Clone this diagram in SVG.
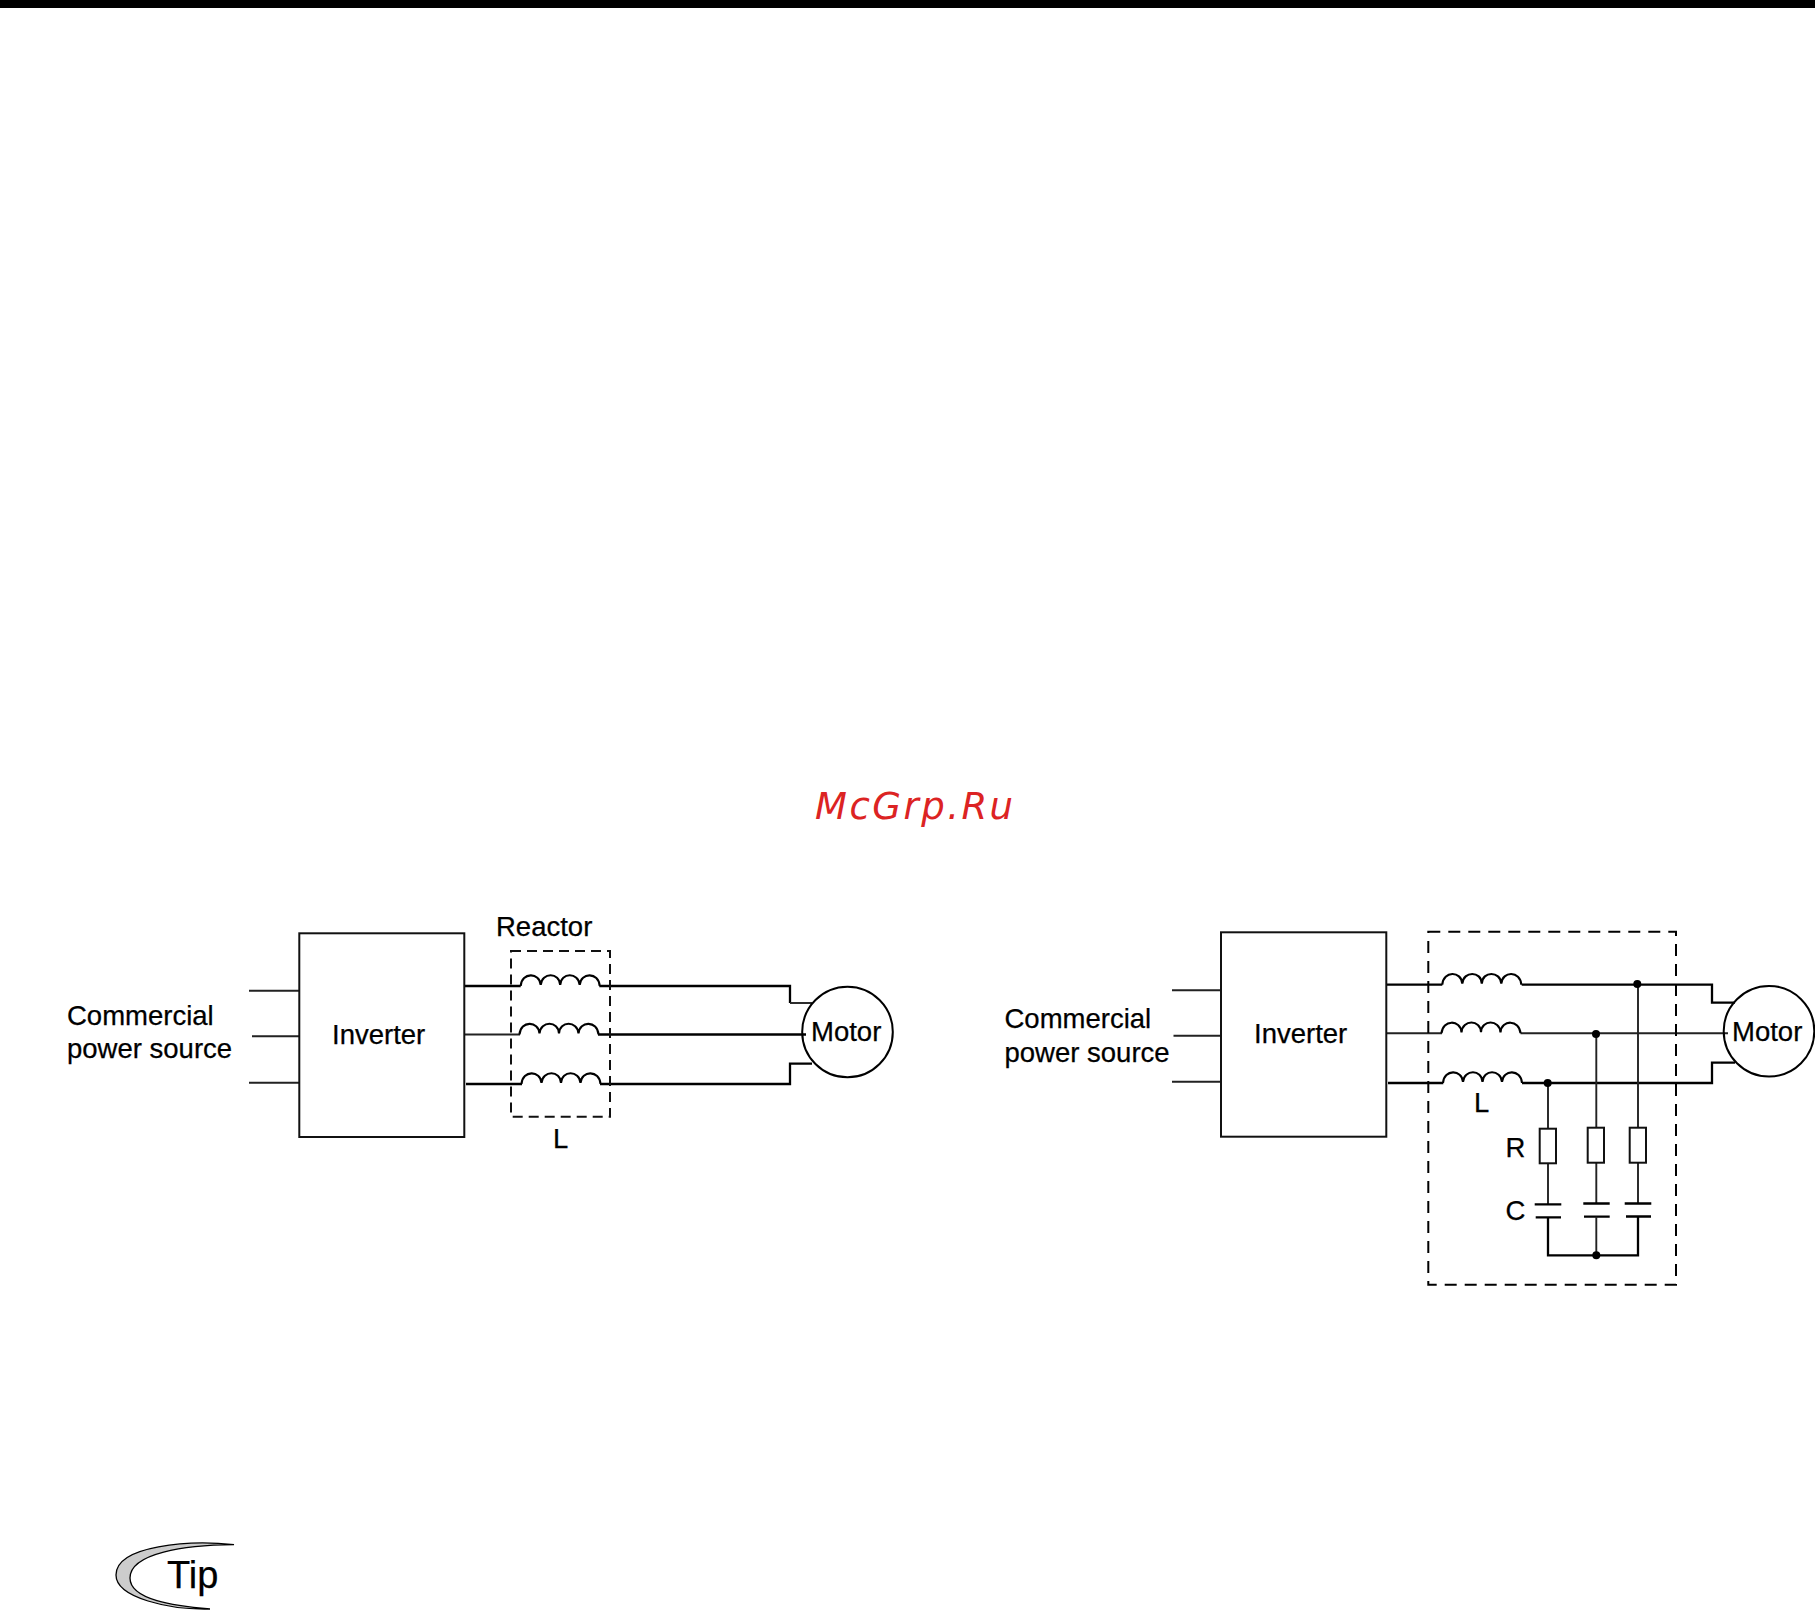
<svg xmlns="http://www.w3.org/2000/svg" width="1815" height="1610" viewBox="0 0 1815 1610">
<defs>
<style>
text{font-family:"Liberation Sans",Arial,sans-serif;font-size:27.5px;fill:#000;stroke:#000;stroke-width:.25}
.b{fill:#fff;stroke:#111;stroke-width:2}
.w{fill:none;stroke:#000;stroke-width:2.300}
.t{fill:none;stroke:#222;stroke-width:1.900}
.d1{fill:none;stroke:#111;stroke-width:2;stroke-dasharray:10 6}
.d2{fill:none;stroke:#000;stroke-width:2;stroke-dasharray:12 8}
.dot{fill:#000}
</style>
<path id="coil" d="M0 0C1 -14 19 -14 20 -1C21 -14 39 -14 39.500 -1C40 -14 58 -14 59 -1C60 -14 78 -14 79 0" fill="none" stroke="#000" stroke-width="2.100"/>
</defs>
<rect id="top-bar" x="0" y="0" width="1815" height="8" fill="#000"/>
<text id="watermark" x="815" y="819" style="font-family:'DejaVu Sans',sans-serif;font-style:oblique;font-size:37px;letter-spacing:2.500px;fill:#dc2323;stroke:none">McGrp.Ru</text>

<g id="connectors">
<path class="t" d="M249 990.700H300M252 1036.300H302M249 1082.700H300"/>
<path class="w" d="M465 986H520.700M599.300 986H790V1003"/>
<path class="t" d="M790 1003H812"/>
<path class="t" d="M465 1034.500H520"/>
<path class="w" d="M598 1034.500H806"/>
<path class="w" d="M466 1084H522M600 1084H790V1063.700H812"/>
<use href="#coil" x="520.700" y="986"/>
<use href="#coil" x="519.500" y="1034.500"/>
<use href="#coil" x="521.500" y="1084"/>

<path class="t" d="M1172 990.300H1223M1173.500 1035.700H1224M1172 1081.700H1223"/>
<path class="w" d="M1387 984.700H1442.300M1521.700 984.700H1712V1002.700H1735"/>
<path class="t" d="M1387 1033.300H1442M1520.500 1033.300H1728"/>
<path class="w" d="M1388 1083H1443.300M1522 1083H1712V1062.700H1735"/>
<use href="#coil" x="1442.300" y="984.700"/>
<use href="#coil" x="1441.500" y="1033.300"/>
<use href="#coil" x="1443" y="1083"/>
<path class="t" d="M1548 1083V1129M1596.300 1034V1128M1638 984V1128"/>
<path class="t" d="M1548 1163V1204M1596.300 1163V1203.500M1638 1163V1203.500"/>
<path class="w" d="M1534.700 1204.300H1561.300M1535.700 1217.300H1561M1583.300 1203.500H1609.700M1584 1216.700H1609.700M1624.700 1203.500H1651.300M1626 1216.500H1651"/>
<path class="w" d="M1548 1217.300V1255.300H1638V1216.500"/>
<path class="t" d="M1596.300 1216.700V1255.300"/>
</g>

<g id="inverter-left"><rect class="b" x="299.300" y="933.300" width="165" height="203.700"/><text x="332" y="1043.500">Inverter</text></g>
<g id="source-left"><text x="67" y="1025">Commercial</text><text x="67" y="1058">power source</text></g>
<g id="reactor-left"><rect class="d1" x="511" y="951" width="99" height="165.700"/><text x="496" y="936">Reactor</text><text x="553" y="1148">L</text></g>
<g id="motor-left"><circle cx="847.500" cy="1032" r="45.300" fill="none" stroke="#000" stroke-width="2"/><text x="811" y="1041">Motor</text></g>

<g id="inverter-right"><rect class="b" x="1221" y="932.300" width="165.300" height="204.400"/><text x="1254" y="1043">Inverter</text></g>
<g id="source-right"><text x="1004.500" y="1028.300">Commercial</text><text x="1004.500" y="1061.700">power source</text></g>
<g id="filter-right"><rect class="d2" x="1428.300" y="931.700" width="247.700" height="353"/><text x="1474" y="1112">L</text><text x="1505.500" y="1157">R</text><text x="1505.500" y="1220">C</text>
<rect class="b" x="1539.700" y="1128.700" width="16.300" height="34.600"/>
<rect class="b" x="1587.700" y="1127.700" width="16.300" height="35"/>
<rect class="b" x="1629.700" y="1127.700" width="16.300" height="35"/>
<circle class="dot" cx="1637.300" cy="984" r="4"/><circle class="dot" cx="1596" cy="1034" r="4"/><circle class="dot" cx="1547.700" cy="1083" r="4"/><circle class="dot" cx="1596.300" cy="1255.300" r="4"/></g>
<g id="motor-right"><circle cx="1769" cy="1031.200" r="45.300" fill="none" stroke="#000" stroke-width="2"/><text x="1732" y="1041">Motor</text></g>

<g id="tip"><path d="M234 1544.700C190 1540 116 1545 116 1575C116 1598 170 1610 210 1609C175 1606 130 1600 130 1578C130 1553 185 1545 234 1544.700Z" fill="#ccc" stroke="#000" stroke-width="1.300"/><text x="167" y="1588" style="font-size:38px">Tip</text></g>
</svg>
